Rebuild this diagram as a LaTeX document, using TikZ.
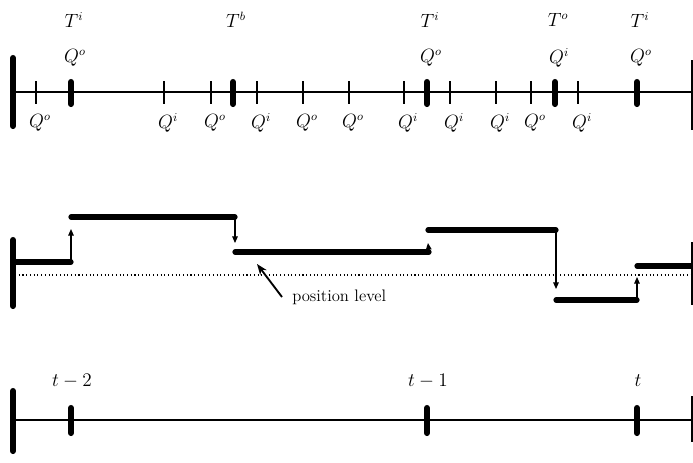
\documentclass[tikz,border=0pt]{standalone}
\usetikzlibrary{arrows.meta}
\begin{document}
\begin{tikzpicture}[x=0.75pt,y=-0.75pt,
  axisline/.style={line width=1.7pt},
  bigbar/.style={line width=4.6pt, line cap=round},
  majortick/.style={line width=4.6pt, line cap=round},
  minortick/.style={line width=0.9pt},
  edgeline/.style={line width=1.1pt},
  stepbar/.style={line width=3.9pt, line cap=round},
  jump/.style={line width=0.9pt, -{Triangle[length=5pt,width=4.2pt]}},
  levelline/.style={line width=0.8pt, dotted},
  pointer/.style={line width=1.4pt, -{Stealth[length=8pt,width=6pt]}},
  lab/.style={font=\fontsize{13.5}{16}\selectfont, inner sep=0pt},
  txt/.style={font=\fontsize{12.5}{15}\selectfont, inner sep=0pt},
]
\useasboundingbox (0,0) rectangle (693,462);

% ---------- top time line ----------
\coordinate (tl) at (13,92);
\coordinate (tr) at (693,92);
\draw[axisline] (tl) -- (tr);
\coordinate (tbt) at (13,58);
\coordinate (tbb) at (13,126);
\draw[bigbar] (tbt) -- (tbb);
\coordinate (tet) at (692,60);
\coordinate (teb) at (692,130);
\draw[edgeline] (tet) -- (teb);

\foreach \x/\n in {71/ma,233/mb,427/mc,555/md,637/me}{
  \coordinate (\n t) at (\x,82);
  \coordinate (\n b) at (\x,104);
  \draw[majortick] (\n t) -- (\n b);
}
\foreach \x/\n/\s in {36/na/o,164/nb/i,211/nc/o,257/nd/i,303/ne/o,349/nf/o,404/ng/i,450/nh/i,496/ni/i,531/nj/o,578/nk/i}{
  \coordinate (\n t) at (\x,81);
  \coordinate (\n b) at (\x,104);
  \draw[minortick] (\n t) -- (\n b);
  \node[lab] (\n lab) at (\x+4,123) {$Q^{\s}$};
}
\foreach \x/\n/\s in {71/ma/i,233/mb/b,427/mc/i,555/md/o,637/me/i}{
  \node[lab] (\n T) at (\x+3,20) {$T^{\s}$};
}
\node[lab] (maQ) at (75,58) {$Q^{o}$};
\node[lab] (mcQ) at (431,58) {$Q^{o}$};
\node[lab] (mdQ) at (559,58) {$Q^{i}$};
\node[lab] (meQ) at (641,58) {$Q^{o}$};

% ---------- middle: position ----------
\coordinate (mbt) at (13,240);
\coordinate (mbb) at (13,306);
\draw[bigbar] (mbt) -- (mbb);
\coordinate (met) at (692,242);
\coordinate (meb) at (692,305);
\draw[edgeline] (met) -- (meb);

\coordinate (lvl0) at (15,275);
\coordinate (lvl1) at (693,275);
\draw[levelline] (lvl0) -- (lvl1);

\coordinate (s0a) at (14,262);  \coordinate (s0b) at (71,262);
\coordinate (s1a) at (71,217);  \coordinate (s1b) at (235,217);
\coordinate (s2a) at (235,252); \coordinate (s2b) at (429,252);
\coordinate (s3a) at (428,230); \coordinate (s3b) at (556,230);
\coordinate (s4a) at (556,300); \coordinate (s4b) at (637,300);
\coordinate (s5a) at (637,266); \coordinate (s5b) at (693,266);
\draw[stepbar] (s0a) -- (s0b);
\draw[stepbar] (s1a) -- (s1b);
\draw[stepbar] (s2a) -- (s2b);
\draw[stepbar] (s3a) -- (s3b);
\draw[stepbar] (s4a) -- (s4b);
\draw[stepbar] (s5a) -- (s5b);

\coordinate (j1) at (71,229);
\coordinate (j2) at (235,243);
\coordinate (j3) at (428,243);
\coordinate (j4) at (556,289);
\coordinate (j5) at (637,277);
\draw[jump] (s0b) -- (j1);
\draw[jump] (s1b) -- (j2);
\draw[jump] (s2b) -- (j3);
\draw[jump] (s3b) -- (j4);
\draw[jump] (s4b) -- (j5);

\node[txt, anchor=west] (poslab) at (292,297) {position level};
\coordinate (ptail) at (282,297);
\coordinate (phead) at (257,264);
\draw[pointer] (ptail) -- (phead);

% ---------- bottom: periods ----------
\coordinate (bl) at (13,420);
\coordinate (br) at (693,420);
\draw[axisline] (bl) -- (br);
\coordinate (bbt) at (13,391);
\coordinate (bbb) at (13,451);
\draw[bigbar] (bbt) -- (bbb);
\coordinate (bet) at (692,396);
\coordinate (beb) at (692,442);
\draw[edgeline] (bet) -- (beb);
\foreach \x/\n/\t in {71/pa/t-2,427/pb/t-1,637/pc/t}{
  \coordinate (\n t) at (\x,408);
  \coordinate (\n b) at (\x,433);
  \draw[majortick] (\n t) -- (\n b);
  \node[lab] (\n lab) at (\x+1,381) {$\t$};
}
\end{tikzpicture}
\end{document}
